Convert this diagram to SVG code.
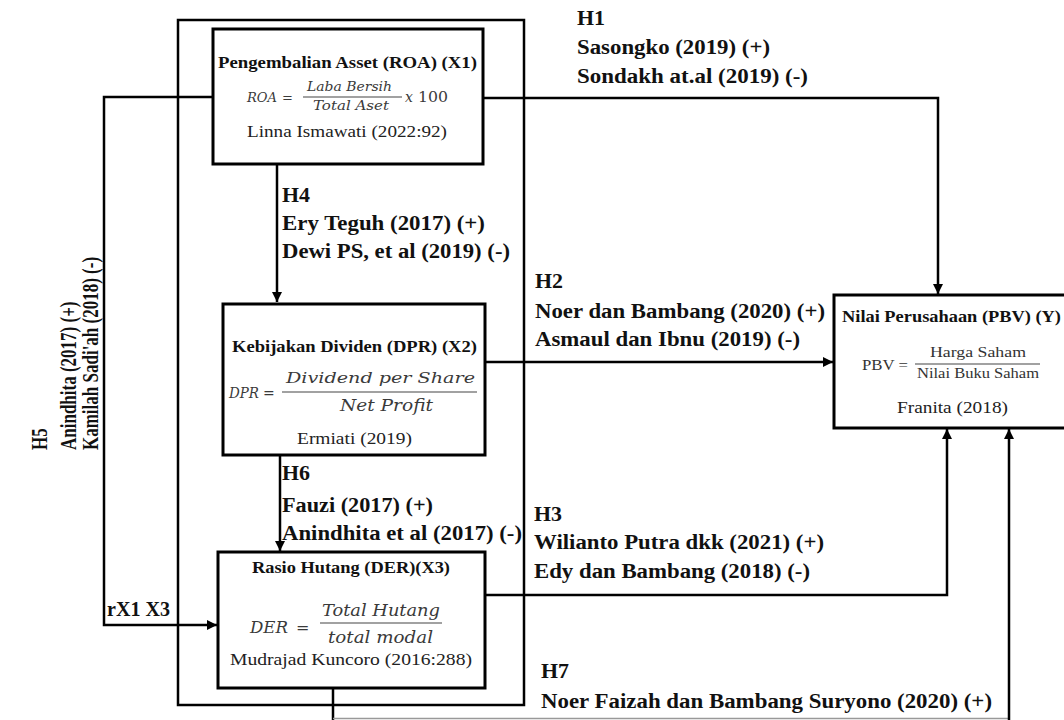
<svg xmlns="http://www.w3.org/2000/svg" width="1064" height="720" viewBox="0 0 1064 720">
<defs>
<marker id="ah" viewBox="0 0 10 10" refX="10" refY="5" markerWidth="10" markerHeight="10" markerUnits="userSpaceOnUse" orient="auto">
<path d="M0,0 L10,5 L0,10 Z" fill="#000"/>
</marker>
<style>
.box{fill:#fff;stroke:#000;stroke-width:3}
.ln{fill:none;stroke:#000;stroke-width:2.5}
.fr{stroke:#444;stroke-width:1.2}
.h{font-family:"Liberation Serif",serif;font-weight:bold;font-size:20px;fill:#111}
.v{font-family:"Liberation Serif",serif;font-weight:bold;font-size:17px;fill:#111}
.t{font-family:"Liberation Serif",serif;font-weight:bold;font-size:17px;fill:#111}
.r{font-family:"Liberation Serif",serif;font-size:17px;fill:#222}
.m{font-family:"DejaVu Serif",serif;font-style:italic;fill:#3a3a3a}
.mn{font-family:"DejaVu Serif",serif;fill:#3a3a3a}
.mu{font-family:"Liberation Serif",serif;fill:#333}
</style>
</defs>
<rect width="1064" height="720" fill="#fff"/>
<g id="frame">
<rect x="178" y="20" width="346" height="685" class="ln"/>
</g>
<g id="connectors">
<polyline class="ln" points="483,98 938,98 938,294" marker-end="url(#ah)"/>
<polyline class="ln" points="213,97 104,97 104,625 217,625" marker-end="url(#ah)"/>
<line class="ln" x1="277" y1="164" x2="277" y2="302" marker-end="url(#ah)"/>
<line class="ln" x1="485" y1="362" x2="833" y2="362" marker-end="url(#ah)"/>
<line class="ln" x1="280" y1="455" x2="280" y2="551" marker-end="url(#ah)"/>
<polyline class="ln" points="485,595 947,595 947,429" marker-end="url(#ah)"/>
<polyline class="ln" points="333,688 333,720"/>
<line x1="333" y1="718.5" x2="1009" y2="718.5" stroke="#999" stroke-width="1.5"/>
<line class="ln" x1="1009" y1="720" x2="1009" y2="429" marker-end="url(#ah)"/>
</g>
<g id="roa">
<rect x="213" y="29" width="270" height="135" class="box"/>
<text class="t" x="218" y="68" textLength="259" lengthAdjust="spacingAndGlyphs">Pengembalian Asset (ROA) (X1)</text>
<text class="m" x="247" y="102" font-size="13" textLength="30" lengthAdjust="spacingAndGlyphs">ROA</text>
<text class="mn" x="282" y="102" font-size="13">=</text>
<text class="m" x="307" y="91" font-size="13" textLength="85" lengthAdjust="spacingAndGlyphs">Laba Bersih</text>
<line class="fr" x1="303" y1="97" x2="402" y2="97"/>
<text class="m" x="313" y="110" font-size="13" textLength="76" lengthAdjust="spacingAndGlyphs">Total Aset</text>
<text class="m" x="405" y="102" font-size="14">x</text>
<text class="mn" x="418" y="102" font-size="14" textLength="30" lengthAdjust="spacingAndGlyphs">100</text>
<text class="r" x="247" y="137" textLength="200" lengthAdjust="spacingAndGlyphs">Linna Ismawati (2022:92)</text>
</g>
<g id="dpr">
<rect x="223" y="304" width="262" height="151" class="box"/>
<text class="t" x="232" y="352" textLength="245" lengthAdjust="spacingAndGlyphs">Kebijakan Dividen (DPR) (X2)</text>
<text class="m" x="229" y="398" font-size="14" textLength="30" lengthAdjust="spacingAndGlyphs">DPR</text>
<text class="mn" x="263" y="398" font-size="14">=</text>
<text class="m" x="286" y="383" font-size="15" textLength="189" lengthAdjust="spacingAndGlyphs">Dividend per Share</text>
<line class="fr" x1="282" y1="392" x2="477" y2="392"/>
<text class="m" x="340" y="411" font-size="16" textLength="93" lengthAdjust="spacingAndGlyphs">Net Profit</text>
<text class="r" x="297" y="444" textLength="115" lengthAdjust="spacingAndGlyphs">Ermiati (2019)</text>
</g>
<g id="der">
<rect x="218" y="552" width="267" height="136" class="box"/>
<text class="t" x="252" y="573" textLength="198" lengthAdjust="spacingAndGlyphs">Rasio Hutang (DER)(X3)</text>
<text class="m" x="250" y="633" font-size="16" textLength="38" lengthAdjust="spacingAndGlyphs">DER</text>
<text class="mn" x="296" y="633" font-size="16">=</text>
<text class="m" x="322" y="616" font-size="16" textLength="118" lengthAdjust="spacingAndGlyphs">Total Hutang</text>
<line class="fr" x1="320" y1="623" x2="442" y2="623"/>
<text class="m" x="328" y="643" font-size="16" textLength="105" lengthAdjust="spacingAndGlyphs">total modal</text>
<text class="r" x="230" y="665" textLength="242" lengthAdjust="spacingAndGlyphs">Mudrajad Kuncoro (2016:288)</text>
</g>
<g id="pbv">
<rect x="834" y="295" width="236" height="133" class="box"/>
<text class="t" x="842" y="322" textLength="219" lengthAdjust="spacingAndGlyphs">Nilai Perusahaan (PBV) (Y)</text>
<text class="mu" x="862" y="370" font-size="14" textLength="46" lengthAdjust="spacingAndGlyphs">PBV =</text>
<text class="mu" x="978" y="357" font-size="15" text-anchor="middle" textLength="96" lengthAdjust="spacingAndGlyphs">Harga Saham</text>
<line class="fr" x1="915" y1="364" x2="1040" y2="364"/>
<text class="mu" x="917" y="378" font-size="15" textLength="122" lengthAdjust="spacingAndGlyphs">Nilai Buku Saham</text>
<text class="r" x="897" y="413" textLength="111" lengthAdjust="spacingAndGlyphs">Franita (2018)</text>
</g>
<g id="labels">
<text class="h" x="577" y="25" textLength="28" lengthAdjust="spacingAndGlyphs">H1</text>
<text class="h" x="577" y="54" textLength="193" lengthAdjust="spacingAndGlyphs">Sasongko (2019) (+)</text>
<text class="h" x="577" y="83" textLength="231" lengthAdjust="spacingAndGlyphs">Sondakh at.al (2019) (-)</text>
<text class="h" x="282" y="202" textLength="28" lengthAdjust="spacingAndGlyphs">H4</text>
<text class="h" x="282" y="230" textLength="203" lengthAdjust="spacingAndGlyphs">Ery Teguh (2017) (+)</text>
<text class="h" x="282" y="258" textLength="228" lengthAdjust="spacingAndGlyphs">Dewi PS, et al (2019) (-)</text>
<text class="h" x="535" y="288" textLength="28" lengthAdjust="spacingAndGlyphs">H2</text>
<text class="h" x="535" y="318" textLength="290" lengthAdjust="spacingAndGlyphs">Noer dan Bambang (2020) (+)</text>
<text class="h" x="535" y="346" textLength="265" lengthAdjust="spacingAndGlyphs">Asmaul dan Ibnu (2019) (-)</text>
<text class="h" x="282" y="480" textLength="28" lengthAdjust="spacingAndGlyphs">H6</text>
<text class="h" x="282" y="512" textLength="151" lengthAdjust="spacingAndGlyphs">Fauzi (2017) (+)</text>
<text class="h" x="282" y="540" textLength="240" lengthAdjust="spacingAndGlyphs">Anindhita et al (2017) (-)</text>
<text class="h" x="534" y="521" textLength="28" lengthAdjust="spacingAndGlyphs">H3</text>
<text class="h" x="534" y="549" textLength="290" lengthAdjust="spacingAndGlyphs">Wilianto Putra dkk (2021) (+)</text>
<text class="h" x="534" y="578" textLength="276" lengthAdjust="spacingAndGlyphs">Edy dan Bambang (2018) (-)</text>
<text class="h" x="541" y="678" textLength="28" lengthAdjust="spacingAndGlyphs">H7</text>
<text class="h" x="541" y="708" textLength="451" lengthAdjust="spacingAndGlyphs">Noer Faizah dan Bambang Suryono (2020) (+)</text>
<text class="h" x="107" y="616" font-size="18" textLength="63" lengthAdjust="spacingAndGlyphs">rX1 X3</text>
<text class="v" transform="translate(47,450) scale(1.35,1) rotate(-90)">H5</text>
<text class="v" transform="translate(76,450) scale(1.35,1) rotate(-90)">Anindhita (2017) (+)</text>
<text class="v" transform="translate(98,450) scale(1.35,1) rotate(-90)">Kamilah Sadi'ah (2018) (-)</text>
</g>
</svg>
